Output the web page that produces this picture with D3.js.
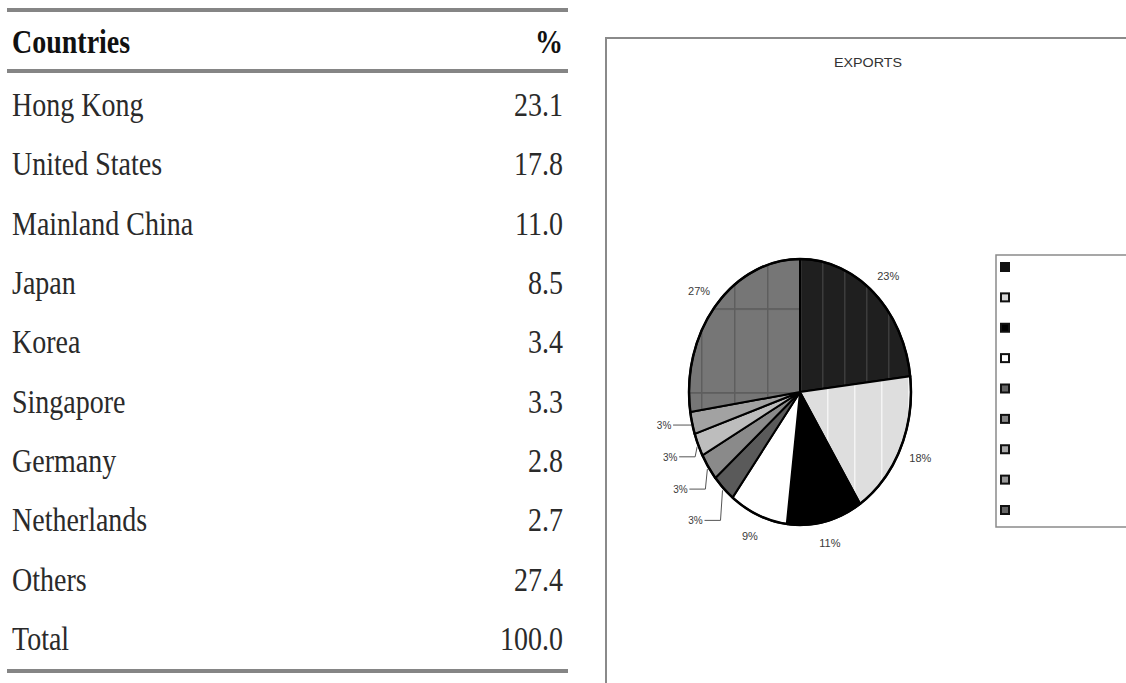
<!DOCTYPE html>
<html>
<head>
<meta charset="utf-8">
<script src="https://cdn.jsdelivr.net/npm/d3@7"></script>
<style>
  body { margin: 0; background: #fff; }
  svg { display: block; }
</style>
</head>
<body>
<svg id="chart" width="1126" height="683"></svg>
<script>
// table + pie data
const countries = ['Hong Kong', 'United States', 'Mainland China', 'Japan', 'Korea',
    'Singapore', 'Germany', 'Netherlands', 'Others'];
const shares = [23.1, 17.8, 11.0, 8.5, 3.4, 3.3, 2.8, 2.7, 27.4];
const sliceFills = ['url(#hkPat)', 'url(#usPat)', '#000', '#fff', '#5a5a5a',
    '#8a8a8a', '#bdbdbd', '#a2a2a2', 'url(#otPat)'];
const legendFills = ['#111', '#d8d8d8', '#000', '#fff', '#666', '#888', '#aaa', '#999', '#666'];
const headers = ['Countries', '%'];
const chartTitle = 'EXPORTS';

const svg = d3.select('#chart');
const defs = svg.append('defs');

// hatch patterns for the big slices
function stripePattern(id, w, h, bg, line, horiz) {
    const p = defs.append('pattern')
        .attr('id', id)
        .attr('patternUnits', 'userSpaceOnUse')
        .attr('width', w)
        .attr('height', h);
    p.append('rect').attr('width', w).attr('height', h).attr('fill', bg);
    p.append('rect').attr('x', 0).attr('width', 1.5).attr('height', h).attr('fill', line);
    if (horiz)
        p.append('rect').attr('y', 0).attr('width', w).attr('height', 1.5).attr('fill', line);
}
stripePattern('hkPat', 22, 60, '#1f1f1f', '#3c3c3c', false);
stripePattern('usPat', 27, 60, '#dedede', '#f4f4f4', false);
stripePattern('otPat', 33, 70, '#767676', '#5e5e5e', true);

/* ---------- table ---------- */
const table = svg.append('g');
const tLeft = 12, tRight = 563;
const rowNames = countries.concat(['Total']);
const rowValues = shares.concat([d3.sum(shares)]);
const y = d3.scalePoint().domain(rowNames).range([116, 650]);
const fmt = d3.format('.1f');

function rule(yy) {
    table.append('line')
        .attr('x1', 7).attr('x2', 568)
        .attr('y1', yy).attr('y2', yy)
        .attr('stroke', '#858585')
        .attr('stroke-width', 4);
}
rule(10);
rule(71);
rule(671);

function cell(txt, x, yy, anchor, bold) {
    table.append('text')
        .attr('transform', `translate(${x},${yy}) scale(1,1.18)`)
        .attr('text-anchor', anchor)
        .attr('font-family', '"Liberation Serif", "Times New Roman", serif')
        .attr('font-size', 28)
        .attr('font-weight', bold ? 'bold' : 'normal')
        .attr('fill', bold ? '#111' : '#2a2a2a')
        .text(txt);
}
cell(headers[0], tLeft, 53, 'start', true);
cell(headers[1], tRight, 53, 'end', true);
rowNames.forEach((name, i) => {
    cell(name, tLeft, y(name), 'start', false);
    cell(fmt(rowValues[i]), tRight, y(name), 'end', false);
});

/* ---------- chart panel ---------- */
const panel = svg.append('g');
panel.append('path')
    .attr('d', 'M606,683 V38 H1126')
    .attr('fill', 'none')
    .attr('stroke', '#8a8a8a')
    .attr('stroke-width', 2);

panel.append('text')
    .attr('transform', 'translate(868,67) scale(1.1,1)')
    .attr('text-anchor', 'middle')
    .attr('font-family', 'Arial, "Liberation Sans", sans-serif')
    .attr('font-size', 13)
    .attr('fill', '#333')
    .text(chartTitle);

// pie (drawn as an ellipse)
const cx = 800, cy = 392, rx = 111, ry = 133;
const sy = ry / rx;
const pie = d3.pie().sort(null).value(d => d)(shares);
const arc = d3.arc().innerRadius(0).outerRadius(rx);

const pieG = panel.append('g')
    .attr('transform', `translate(${cx},${cy}) scale(1,${sy})`);

pieG.selectAll('path')
    .data(pie)
    .enter().append('path')
    .attr('d', arc)
    .attr('fill', (d, i) => sliceFills[i])
    .attr('stroke', '#000')
    .attr('stroke-width', 2)
    .attr('vector-effect', 'non-scaling-stroke');

pieG.append('ellipse')
    .attr('rx', rx).attr('ry', rx)
    .attr('fill', 'none')
    .attr('stroke', '#000')
    .attr('stroke-width', 2.5)
    .attr('vector-effect', 'non-scaling-stroke');

function onEllipse(a, pad) {
    return [cx + (rx + pad) * Math.sin(a), cy - (ry + pad) * Math.cos(a)];
}

const small = pie.filter(d => d.data < 5);
const labelFont = 'Arial, "Liberation Sans", sans-serif';

pie.forEach((d, i) => {
    const mid = (d.startAngle + d.endAngle) / 2;
    const lbl = Math.round(d.data) + '%';
    if (d.data >= 5) {
        const [lx, ly] = onEllipse(mid, 22);
        panel.append('text')
            .attr('x', lx).attr('y', ly + 4)
            .attr('text-anchor', 'middle')
            .attr('font-family', labelFont)
            .attr('font-size', 11)
            .attr('fill', '#3a3a3a')
            .text(lbl);
    } else {
        const k = small.indexOf(d);        // 0 = slice nearest Japan
        const [ex, ey] = onEllipse(mid, 0);
        const lx = ex - 28, ly = ey + 2 + 10 * (small.length - 1 - k);
        panel.append('path')
            .attr('d', `M${lx + 9},${ly} H${ex - 3} L${ex - 1},${ey + 2}`)
            .attr('fill', 'none')
            .attr('stroke', '#555')
            .attr('stroke-width', 1);
        panel.append('text')
            .attr('x', lx).attr('y', ly + 4)
            .attr('text-anchor', 'middle')
            .attr('font-family', labelFont)
            .attr('font-size', 10)
            .attr('fill', '#3a3a3a')
            .text(lbl);
    }
});

// legend (markers only, no text)
const legend = panel.append('g');
legend.append('rect')
    .attr('x', 996).attr('y', 255)
    .attr('width', 140).attr('height', 272)
    .attr('fill', '#fff')
    .attr('stroke', '#8a8a8a')
    .attr('stroke-width', 1.5);

const ly = d3.scaleLinear().domain([0, countries.length - 1]).range([267, 510]);
legend.selectAll('rect.mk')
    .data(countries)
    .enter().append('rect')
    .attr('class', 'mk')
    .attr('x', 1001)
    .attr('y', (d, i) => ly(i) - 4)
    .attr('width', 8).attr('height', 8)
    .attr('fill', (d, i) => legendFills[i])
    .attr('stroke', '#111')
    .attr('stroke-width', 2);
</script>
</body>
</html>
